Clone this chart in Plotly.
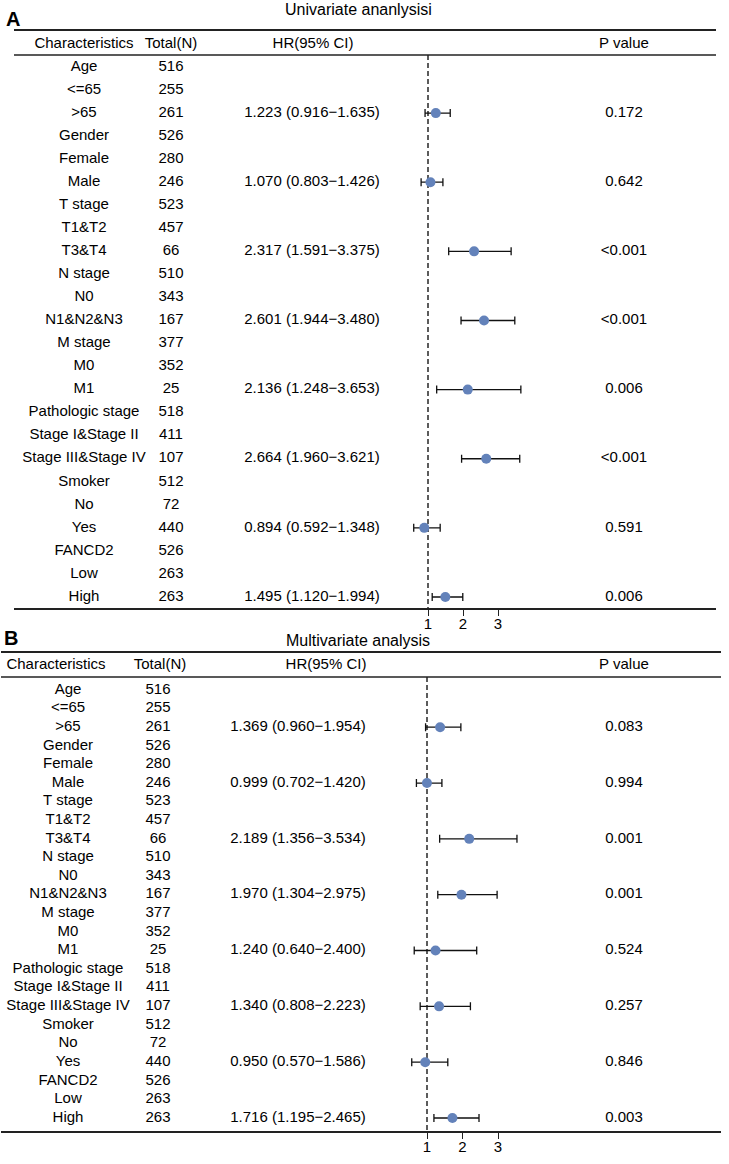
import plotly.graph_objects as go

# ---- data ----
characteristics = ["Age", "<=65", ">65", "Gender", "Female", "Male", "T stage", "T1&T2", "T3&T4",
                   "N stage", "N0", "N1&N2&N3", "M stage", "M0", "M1", "Pathologic stage",
                   "Stage I&Stage II", "Stage III&Stage IV", "Smoker", "No", "Yes", "FANCD2", "Low", "High"]
total_n = [516, 255, 261, 526, 280, 246, 523, 457, 66, 510, 343, 167, 377, 352, 25, 518,
           411, 107, 512, 72, 440, 526, 263, 263]

# rows carrying an estimate
est_rows = [">65", "Male", "T3&T4", "N1&N2&N3", "M1", "Stage III&Stage IV", "Yes", "High"]

uni_hr = [1.223, 1.070, 2.317, 2.601, 2.136, 2.664, 0.894, 1.495]
uni_lo = [0.916, 0.803, 1.591, 1.944, 1.248, 1.960, 0.592, 1.120]
uni_hi = [1.635, 1.426, 3.375, 3.480, 3.653, 3.621, 1.348, 1.994]
uni_p = ["0.172", "0.642", "<0.001", "<0.001", "0.006", "<0.001", "0.591", "0.006"]

multi_hr = [1.369, 0.999, 2.189, 1.970, 1.240, 1.340, 0.950, 1.716]
multi_lo = [0.960, 0.702, 1.356, 1.304, 0.640, 0.808, 0.570, 1.195]
multi_hi = [1.954, 1.420, 3.534, 2.975, 2.400, 2.223, 1.586, 2.465]
multi_p = ["0.083", "0.994", "0.001", "0.001", "0.524", "0.257", "0.846", "0.003"]

tick_vals = [1, 2, 3]

W, H = 729, 1164
FONT = "Liberation Sans, Arial, sans-serif"
DOT = "#6382BA"

fig = go.Figure()


def panel(n, title, letter, hr, lo, hi, pv, geo):
    xf = "x" if n == 1 else "x3"
    xt = "x2" if n == 1 else "x4"
    yy = "y" if n == 1 else "y2"
    rows = [characteristics.index(r) for r in est_rows]
    tf = dict(size=geo["fs"], color="black", family=FONT)

    # text columns
    fig.add_trace(go.Scatter(x=[geo["c_char"]] * len(characteristics), y=list(range(len(characteristics))),
                             text=characteristics, mode="text", textfont=tf,
                             xaxis=xt, yaxis=yy, hoverinfo="skip"))
    fig.add_trace(go.Scatter(x=[geo["c_tot"]] * len(total_n), y=list(range(len(total_n))),
                             text=[str(v) for v in total_n], mode="text", textfont=tf,
                             xaxis=xt, yaxis=yy, hoverinfo="skip"))
    hr_txt = ["%.3f (%.3f\u2212%.3f)" % (a, b, c) for a, b, c in zip(hr, lo, hi)]
    fig.add_trace(go.Scatter(x=[geo["c_hr"]] * len(rows), y=rows, text=hr_txt, mode="text",
                             textfont=tf, xaxis=xt, yaxis=yy, hoverinfo="skip"))
    fig.add_trace(go.Scatter(x=[geo["c_p"]] * len(rows), y=rows, text=pv, mode="text",
                             textfont=tf, xaxis=xt, yaxis=yy, hoverinfo="skip"))
    # header
    heads = ["Characteristics", "Total(N)", "HR(95% CI)", "P value"]
    fig.add_trace(go.Scatter(x=[geo["h_char"], geo["h_tot"], geo["h_hr"], geo["c_p"]],
                             y=[geo["r_head"]] * 4, text=heads, mode="text", textfont=tf,
                             xaxis=xt, yaxis=yy, hoverinfo="skip"))

    # reference line
    fig.add_trace(go.Scatter(x=[1, 1], y=[geo["r_hline"], geo["r_bot"]], mode="lines",
                             line=dict(color="#333333", width=1.6, dash="5px,3px"),
                             xaxis=xf, yaxis=yy, hoverinfo="skip"))
    # estimates
    fig.add_trace(go.Scatter(
        x=hr, y=rows, mode="markers",
        marker=dict(size=geo["ms"], color=DOT),
        error_x=dict(type="data", symmetric=False,
                     array=[b - a for a, b in zip(hr, hi)],
                     arrayminus=[a - b for a, b in zip(hr, lo)],
                     color="#111111", thickness=1.3, width=4),
        xaxis=xf, yaxis=yy))

    # header underline
    fig.add_shape(type="line", xref=xf + " domain", yref=yy, x0=0, x1=1,
                  y0=geo["r_hline"], y1=geo["r_hline"], line=dict(color="#222222", width=1.6))

    fig.add_annotation(x=geo["title_x"] / W, y=1 - geo["title_y"] / H, xref="paper", yref="paper",
                       xanchor="center", yanchor="middle",
                       text=title, showarrow=False, font=dict(size=geo["tfs"], color="black", family=FONT))
    fig.add_annotation(x=geo["let_x"] / W, y=1 - geo["let_y"] / H, xref="paper", yref="paper",
                       xanchor="center", yanchor="middle",
                       text="<b>%s</b>" % letter, showarrow=False,
                       font=dict(size=20, color="black", family=FONT))


def axes_geo(g):
    step = (g["px_last"] - g["px_first"]) / (len(characteristics) - 1)
    g["r_top"] = (g["px_top"] - g["px_first"]) / step
    g["r_bot"] = (g["px_bot"] - g["px_first"]) / step
    g["r_head"] = (g["px_head"] - g["px_first"]) / step
    g["r_hline"] = (g["px_hline"] - g["px_first"]) / step
    g["dom_y"] = [1 - g["px_bot"] / H, 1 - g["px_top"] / H]
    g["dom_x"] = [g["x0"] / W, g["x1"] / W]
    g["rng_x"] = [1 - (g["px_one"] - g["x0"]) / g["unit"], 1 + (g["x1"] - g["px_one"]) / g["unit"]]
    return g


gA = axes_geo(dict(px_top=31, px_head=44, px_hline=55, px_first=67, px_last=597, px_bot=608,
                   x0=14, x1=716, px_one=428, unit=35,
                   c_char=84, c_tot=171, c_hr=312, c_p=624, fs=15, ms=10,
                   h_char=84, h_tot=171, h_hr=313,
                   title_x=358, title_y=10, let_x=13, let_y=19, tfs=16))
gB = axes_geo(dict(px_top=653, px_head=665, px_hline=677, px_first=690, px_last=1118, px_bot=1131,
                   x0=1, x1=721, px_one=427, unit=35.5,
                   c_char=68, c_tot=158, c_hr=298, c_p=624, fs=15, ms=10,
                   h_char=56, h_tot=160, h_hr=326,
                   title_x=358, title_y=640, let_x=11, let_y=638, tfs=16))

panel(1, "Univariate ananlysisi", "A", uni_hr, uni_lo, uni_hi, uni_p, gA)
panel(2, "Multivariate analysis", "B", multi_hr, multi_lo, multi_hi, multi_p, gB)


def forest_x(g, anchor):
    return dict(domain=g["dom_x"], range=g["rng_x"], anchor=anchor, showgrid=False, zeroline=False,
                showline=True, linecolor="#222222", linewidth=1.6, mirror=True,
                tickvals=tick_vals, ticks="outside", ticklen=6, tickwidth=1.4, tickcolor="#222222",
                ticklabelstandoff=-5,
                tickfont=dict(size=15, color="black", family=FONT), fixedrange=True)


def text_x(g, over):
    return dict(overlaying=over, range=[g["x0"], g["x1"]], visible=False, fixedrange=True)


def row_y(g, anchor):
    return dict(domain=g["dom_y"], range=[g["r_bot"], g["r_top"]], anchor=anchor, visible=False,
                fixedrange=True)


fig.update_layout(
    width=W, height=H,
    margin=dict(l=0, r=0, t=0, b=0),
    paper_bgcolor="white", plot_bgcolor="rgba(0,0,0,0)",
    xaxis=forest_x(gA, "y"), xaxis2=text_x(gA, "x"), yaxis=row_y(gA, "x"),
    xaxis3=forest_x(gB, "y2"), xaxis4=text_x(gB, "x3"), yaxis2=row_y(gB, "x3"),
    showlegend=False,
)

fig.write_html("out.html", config={"displayModeBar": False},
               post_script="document.body.style.margin='0';")
